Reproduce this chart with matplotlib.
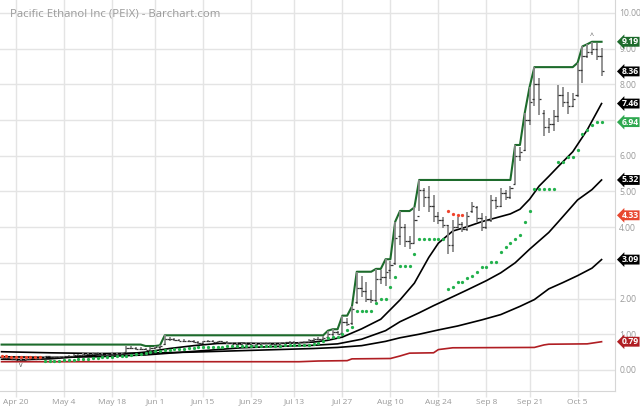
import numpy as np
import pandas as pd
import matplotlib
matplotlib.use("Agg")
import matplotlib.pyplot as plt
import matplotlib.transforms as mtransforms

plt.rcParams['font.family'] = ['Open Sans', 'DejaVu Sans']

# trading days shown: Apr 15 - Oct 12 2020 (market holidays removed)
holidays = ["2020-05-25", "2020-07-03", "2020-09-07"]
dates = pd.bdate_range("2020-04-15", "2020-10-12")
dates = dates[~dates.isin(pd.to_datetime(holidays))]

tick_dates = ["2020-04-20", "2020-05-04", "2020-05-18", "2020-06-01", "2020-06-15",
              "2020-06-29", "2020-07-13", "2020-07-27", "2020-08-10", "2020-08-24",
              "2020-09-08", "2020-09-21", "2020-10-05"]
tick_labels = ["Apr 20", "May 4", "May 18", "Jun 1", "Jun 15", "Jun 29", "Jul 13",
               "Jul 27", "Aug 10", "Aug 24", "Sep 8", "Sep 21", "Oct 5"]

# daily OHLC
opens = [.35, .33, .34, .31, .28, .29, .31, .33, .32, .34, .38, .36, .35, .37, .39, .40, .42, .41, .45, .44,
         .47, .45, .43, .44, .45, .46, .49, .62, .62, .60, .58, .57, .62, .64, .72, .88, .86, .84, .82, .81,
         .80, .79, .76, .80, .82, .78, .80, .77, .76, .74, .73, .75, .72, .71, .74, .75, .76, .74, .73, .76,
         .77, .78, .76, .77, .79, .84, .86, .88, .92, 1.02, 1.05, 1.03, 1.35, 1.32, 1.90, 2.30, 2.20, 2.00, 1.95, 2.55,
         2.60, 2.80, 3.00, 3.75, 4.00, 3.60, 3.55, 4.30, 5.05, 4.85, 4.60, 4.30, 4.20, 4.05, 3.50, 4.00, 4.10, 3.95, 4.45, 4.55,
         4.25, 4.00, 4.20, 4.75, 4.60, 4.95, 4.85, 5.20, 6.00, 6.15, 7.00, 7.60, 8.00, 7.20, 6.80, 6.90, 7.10, 7.70, 7.50, 7.40,
         7.70, 8.40, 8.80, 8.90, 9.00, 8.80]
highs = [.37, .36, .35, .33, .31, .33, .34, .35, .35, .40, .40, .38, .38, .40, .42, .44, .45, .47, .48, .50,
         .50, .47, .46, .47, .48, .50, .66, .66, .64, .63, .62, .65, .67, .69, .97, .92, .90, .88, .86, .84,
         .83, .82, .82, .84, .84, .82, .82, .80, .78, .77, .76, .77, .75, .75, .77, .79, .78, .76, .77, .79,
         .80, .80, .79, .81, .86, .90, .92, .95, 1.10, 1.14, 1.08, 1.52, 1.45, 1.78, 2.75, 2.62, 2.45, 2.25, 2.83, 2.80,
         3.10, 3.05, 4.15, 4.45, 4.10, 3.75, 4.55, 5.32, 5.10, 5.14, 4.90, 4.43, 4.29, 4.06, 4.20, 4.29, 4.15, 4.43, 4.71, 4.60,
         4.40, 4.30, 4.90, 4.85, 5.09, 5.05, 5.15, 6.30, 6.25, 7.20, 7.92, 8.48, 8.17, 7.28, 7.05, 7.28, 7.98, 7.93, 7.79, 7.75,
         8.60, 9.06, 9.12, 9.19, 9.15, 9.01]
lows = [.32, .31, .30, .27, .24, .28, .30, .31, .31, .33, .35, .34, .34, .36, .37, .39, .40, .40, .42, .43,
        .44, .42, .41, .42, .43, .44, .48, .58, .57, .56, .55, .56, .60, .60, .70, .82, .80, .80, .78, .77,
        .76, .74, .74, .77, .77, .76, .76, .74, .72, .71, .70, .71, .69, .69, .71, .72, .72, .71, .71, .73,
        .74, .74, .74, .75, .77, .80, .83, .85, .91, .95, .97, 1.02, 1.22, 1.25, 1.85, 2.05, 1.90, 1.88, 1.90, 2.40,
        2.35, 2.55, 2.95, 3.50, 3.45, 3.40, 3.55, 4.45, 4.57, 4.43, 4.15, 4.10, 3.97, 3.26, 3.30, 3.97, 3.87, 3.90, 4.39, 4.15,
        3.90, 3.95, 4.15, 4.50, 4.57, 4.76, 4.80, 5.20, 5.84, 6.12, 6.86, 7.40, 7.14, 6.54, 6.63, 6.68, 6.95, 7.37, 7.18, 7.35,
        7.65, 8.03, 8.73, 8.82, 8.68, 8.22]
closes = [.33, .34, .31, .28, .29, .31, .33, .32, .34, .38, .36, .35, .37, .39, .40, .42, .41, .45, .44, .47,
          .45, .43, .44, .45, .46, .48, .62, .62, .60, .58, .57, .62, .64, .67, .88, .86, .84, .82, .81, .80,
          .79, .76, .80, .82, .78, .80, .77, .76, .74, .73, .75, .72, .71, .74, .75, .76, .74, .73, .76, .77,
          .78, .76, .77, .79, .84, .86, .88, .90, 1.02, 1.05, 1.00, 1.35, 1.30, 1.70, 2.30, 2.20, 2.00, 1.95, 2.55, 2.60,
          2.75, 2.95, 3.70, 4.00, 3.60, 3.55, 4.20, 5.05, 4.85, 4.60, 4.30, 4.20, 4.05, 3.50, 4.00, 4.10, 3.95, 4.30, 4.60, 4.25,
          4.00, 4.20, 4.75, 4.60, 4.95, 4.85, 5.10, 6.00, 6.10, 7.00, 7.50, 8.00, 7.60, 6.80, 6.90, 7.10, 7.70, 7.50, 7.40, 7.60,
          8.40, 8.80, 8.90, 9.00, 8.80, 8.36]

# highest-high channel (green step line), one value per day
high_channel = ([0.71] * 30 + [0.67] * 3 + [0.69] + [0.97] * 34 +
                [1.10, 1.14, 1.14, 1.52, 1.52, 1.78, 2.75, 2.75, 2.75, 2.75, 2.83, 2.83, 3.10, 3.10,
                 4.15, 4.45, 4.45, 4.45, 4.55] + [5.32] * 20 +
                [6.30, 6.30, 7.20, 7.92] + [8.48] * 9 + [8.60, 9.06, 9.12, 9.19, 9.19, 9.19])

# parabolic SAR dots
sar_green = ([None] * 9 +
             [0.24, 0.24, 0.25, 0.26, 0.27, 0.28, 0.29, 0.30, 0.31, 0.32, 0.33, 0.34, 0.35, 0.36, 0.37,
              0.38, 0.39, 0.40, 0.42, 0.44, 0.46, 0.48, 0.50, 0.52, 0.54] +
             [0.55, 0.57, 0.58, 0.59, 0.60, 0.61, 0.62, 0.63, 0.63, 0.64, 0.64, 0.65, 0.65, 0.66, 0.66,
              0.66, 0.66, 0.67, 0.67, 0.67, 0.67, 0.68, 0.68, 0.68, 0.68, 0.69, 0.69, 0.69, 0.70, 0.70,
              0.71, 0.72, 0.76, 0.82] +
             [0.90, 0.92, 0.93, 1.00, 1.12, 1.20, 1.65, 1.65, 1.65, 1.65, 1.87, 1.99, 2.00, 2.33, 2.61,
              2.90, 2.90, 2.90, 3.24, 3.66, 3.66, 3.66, 3.66, 3.66, 3.66] +
             [2.26, 2.33, 2.47, 2.47, 2.57, 2.62, 2.75, 2.89, 2.89, 3.03, 3.03, 3.29, 3.45, 3.56, 3.67,
              3.78, 4.15, 4.46, 5.06, 5.06, 5.06, 5.06, 5.06, 5.83, 5.83, 5.97, 5.97, 6.17, 6.60, 6.72,
              6.86, 6.94, 6.94])
sar_red = ([0.38, 0.38, 0.37, 0.37, 0.37, 0.36, 0.36, 0.36, 0.36] + [None] * 84 +
           [4.45, 4.37, 4.33, 4.33] + [None] * 29)

# moving averages, read at knot days
ma1_days = [0, 5, 10, 15, 20, 25, 30, 35, 40, 45, 50, 55, 60, 65, 68, 71, 75, 79, 83, 86, 89, 91,
            94, 97, 100, 103, 106, 108, 110, 112, 114, 116, 119, 122, 125]
ma1_vals = [0.30, 0.29, 0.31, 0.36, 0.42, 0.44, 0.50, 0.60, 0.68, 0.74, 0.75, 0.74, 0.75, 0.78, 0.83,
            0.92, 1.15, 1.42, 1.96, 2.43, 3.15, 3.55, 3.89, 4.01, 4.15, 4.26, 4.37, 4.50, 4.78, 5.15,
            5.42, 5.70, 6.11, 6.72, 7.46]
ma2_days = [0, 10, 20, 30, 40, 50, 60, 65, 70, 75, 80, 83, 87, 90, 94, 97, 101, 104, 107, 110, 114,
            116, 120, 123, 125]
ma2_vals = [0.37, 0.35, 0.37, 0.42, 0.52, 0.62, 0.67, 0.69, 0.73, 0.86, 1.10, 1.35, 1.60, 1.80, 2.05,
            2.24, 2.50, 2.72, 3.00, 3.38, 3.85, 4.15, 4.76, 5.05, 5.32]
ma3_days = [0, 10, 20, 30, 40, 50, 60, 65, 70, 75, 80, 83, 87, 91, 95, 100, 104, 108, 111, 114, 117,
            120, 123, 125]
ma3_vals = [0.51, 0.48, 0.46, 0.47, 0.50, 0.54, 0.58, 0.60, 0.63, 0.68, 0.80, 0.90, 1.00, 1.12, 1.23,
            1.40, 1.55, 1.78, 1.97, 2.27, 2.45, 2.64, 2.85, 3.09]
red_days = [0, 62, 66, 72, 73, 81, 83, 85, 90, 91, 94, 111, 113, 114, 122, 125]
red_vals = [0.23, 0.23, 0.25, 0.26, 0.31, 0.32, 0.39, 0.47, 0.48, 0.57, 0.62, 0.63, 0.70, 0.72, 0.73, 0.79]

GREEN_LINE = "#1d6b2c"
DOT_GREEN = "#22b14c"
DOT_RED = "#f0442c"
DARK_RED = "#b01e23"
GRID = "#e4e4e4"
TXT = "#9a9a9a"

x = np.arange(len(dates))

fig = plt.figure(figsize=(6.4, 4.08), dpi=100)
ax = fig.add_axes([0, 17 / 408, 615 / 640, 391 / 408])

ax.plot(red_days, red_vals, color=DARK_RED, lw=1.2, zorder=2)
ax.plot(ma3_days, ma3_vals, color="black", lw=1.2, zorder=2)
ax.plot(ma2_days, ma2_vals, color="black", lw=1.2, zorder=2)
ax.plot(ma1_days, ma1_vals, color="black", lw=1.2, zorder=2)
ax.plot(x, high_channel, color=GREEN_LINE, lw=1.5, zorder=2.2)

# OHLC bars
ax.vlines(x, lows, highs, color="#8a8a8a", lw=1.3, zorder=3)
ax.hlines(opens, x - 0.45, x, color="#333333", lw=0.9, zorder=3)
ax.hlines(closes, x, x + 0.45, color="#333333", lw=0.9, zorder=3)

g = np.array([np.nan if v is None else v for v in sar_green], dtype=float)
r = np.array([np.nan if v is None else v for v in sar_red], dtype=float)
ax.scatter(x, g, s=5.5, marker="o", color=DOT_GREEN, lw=0, zorder=4)
ax.scatter(x, r, s=5.5, marker="o", color=DOT_RED, lw=0, zorder=4)

# highest high / lowest low markers
hi_i = int(np.argmax(highs))
lo_i = int(np.argmin(lows))
ax.text(hi_i, highs[hi_i] + 0.05, "^", ha="center", va="bottom", fontsize=5, color="#555555", zorder=4)
ax.text(lo_i, lows[lo_i] - 0.03, "v", ha="center", va="top", fontsize=5, color="#555555", zorder=4)

ax.set_xlim(-0.33, 127.8)
ax.set_ylim(-0.59, 10.36)

# flags on the right cover the 3.00 and 7.00 labels
hidden = [3, 7]
tick_pos = [dates.get_loc(pd.Timestamp(d)) for d in tick_dates]
ax.set_xticks(tick_pos)
ax.set_xticklabels(tick_labels)
ax.set_yticks(range(0, 11))
ax.set_yticklabels(["" if v in hidden else f"{v:.2f}" for v in range(0, 11)])
ax.yaxis.tick_right()
ax.tick_params(axis="x", colors=GRID, labelcolor=TXT, labelsize=6, length=4, width=1, pad=1.5)
ax.tick_params(axis="y", length=0, labelcolor=TXT, labelsize=6.2, pad=3)
ax.grid(color=GRID, lw=1)
ax.set_axisbelow(True)
for s in ["left", "top"]:
    ax.spines[s].set_visible(False)
for s in ["right", "bottom"]:
    ax.spines[s].set_color("#d6d6d6")

ax.text(10 / 615, 1 - 14 / 391, "Pacific Ethanol Inc (PEIX) - Barchart.com", transform=ax.transAxes,
        ha="left", va="center", fontsize=8.2, color=TXT)

# last-value flags on the right
flags = [
    (high_channel[-1], GREEN_LINE),
    (closes[-1], "black"),
    (ma1_vals[-1], "black"),
    (g[-1], "#2ea84f"),
    (ma2_vals[-1], "black"),
    (r[~np.isnan(r)][-1], "#e8472f"),
    (ma3_vals[-1], "black"),
    (red_vals[-1], DARK_RED),
]
trans = mtransforms.blended_transform_factory(ax.transAxes, ax.transData)
for val, col in flags:
    ax.text(1 + 7 / 615, val, f"{val:.2f}", transform=trans, ha="left", va="center",
            fontsize=6.2, fontweight="bold", color="white", clip_on=False, zorder=6,
            bbox=dict(boxstyle="larrow,pad=0.05", fc=col, ec="none"))

fig.savefig("out.png", dpi=100)
